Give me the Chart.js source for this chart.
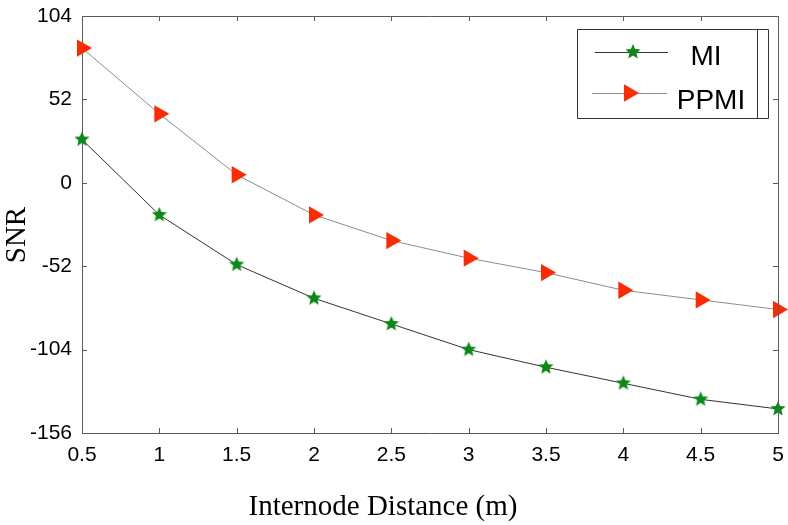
<!DOCTYPE html>
<html lang="en">
<head>
    <meta charset="UTF-8">
    <title>SNR vs Internode Distance</title>
    <style>
        html, body { margin: 0; padding: 0; background: #fff; }
        #wrap { width: 788px; height: 525px; }
    </style>
</head>
<body>
    <div id="wrap">
        <canvas id="myChart" width="788" height="525"></canvas>
    </div>

    <script src="https://cdn.jsdelivr.net/npm/chart.js"></script>
    <script>
        // values
        const distances = [0.5, 1, 1.5, 2, 2.5, 3, 3.5, 4, 4.5, 5];
        const miSnr = [27, -20, -51, -72, -88, -104, -115, -125, -135, -141];
        const ppmiSnr = [84, 43, 5, -20, -36, -47, -56, -67, -73, -79];
        const yTicks = [-156, -104, -52, 0, 52, 104];

        const green = '#0a8a14';
        const red = '#ff2a00';
        const frameColor = '#5a5a5a';

        // filled five point star used as point style
        function makeStar(r) {
            const c = document.createElement('canvas');
            const s = Math.ceil(r * 2 + 2);
            c.width = s; c.height = s;
            const g = c.getContext('2d');
            g.translate(s / 2, s / 2);
            g.beginPath();
            for (let i = 0; i < 10; i++) {
                const rad = i % 2 === 0 ? r : r * 0.45;
                const a = -Math.PI / 2 + i * Math.PI / 5;
                g.lineTo(Math.cos(a) * rad, Math.sin(a) * rad);
            }
            g.closePath();
            g.fillStyle = green;
            g.fill();
            return c;
        }
        const star = makeStar(8);

        function drawTriangle(ctx, x, y, r) {
            ctx.beginPath();
            ctx.moveTo(x + r, y);
            ctx.lineTo(x - r / 2, y - r * Math.sqrt(3) / 2);
            ctx.lineTo(x - r / 2, y + r * Math.sqrt(3) / 2);
            ctx.closePath();
            ctx.fillStyle = red;
            ctx.fill();
        }

        // frame, inward ticks, axis titles and legend
        const decor = {
            id: 'decor',
            afterDraw(chart) {
                const {ctx, chartArea: a, scales} = chart;
                ctx.save();
                ctx.strokeStyle = frameColor;
                ctx.lineWidth = 1;
                ctx.beginPath();
                ctx.moveTo(a.left, a.top + 0.5);
                ctx.lineTo(a.right + 0.5, a.top + 0.5);
                ctx.lineTo(a.right + 0.5, a.bottom);
                const t = 5;
                scales.x.ticks.forEach(tk => {
                    const px = Math.round(scales.x.getPixelForValue(tk.value)) + 0.5;
                    ctx.moveTo(px, a.bottom); ctx.lineTo(px, a.bottom - t);
                    ctx.moveTo(px, a.top); ctx.lineTo(px, a.top + t);
                });
                scales.y.ticks.forEach(tk => {
                    const py = Math.round(scales.y.getPixelForValue(tk.value)) + 0.5;
                    ctx.moveTo(a.left, py); ctx.lineTo(a.left + t, py);
                    ctx.moveTo(a.right, py); ctx.lineTo(a.right - t, py);
                });
                ctx.stroke();

                // axis titles
                ctx.fillStyle = '#000';
                ctx.font = '29px "Liberation Serif", "Times New Roman", serif';
                ctx.textAlign = 'center';
                ctx.textBaseline = 'alphabetic';
                ctx.fillText('Internode Distance (m)', 383, 515);
                ctx.save();
                ctx.translate(25, 235);
                ctx.rotate(-Math.PI / 2);
                ctx.fillText('SNR', 0, 0);
                ctx.restore();

                // legend box
                const lx = 577, ly = 29, lw = 191, lh = 89;
                ctx.strokeStyle = '#333';
                ctx.beginPath();
                ctx.rect(lx + 0.5, ly + 0.5, lw, lh);
                ctx.moveTo(757.5, ly);
                ctx.lineTo(757.5, ly + lh);
                ctx.stroke();

                const sets = chart.data.datasets;
                // MI row
                ctx.strokeStyle = sets[0].borderColor;
                ctx.beginPath();
                ctx.moveTo(595, 52.5); ctx.lineTo(668, 52.5);
                ctx.stroke();
                ctx.drawImage(star, 633 - star.width / 2, 52 - star.height / 2);
                // PPMI row
                ctx.strokeStyle = sets[1].borderColor;
                ctx.beginPath();
                ctx.moveTo(592, 93.5); ctx.lineTo(667, 93.5);
                ctx.stroke();
                drawTriangle(ctx, 629, 93, 10);

                ctx.fillStyle = '#000';
                ctx.font = '28px "Liberation Sans", Arial, sans-serif';
                ctx.textAlign = 'center';
                ctx.textBaseline = 'middle';
                ctx.fillText(sets[0].label, 706, 57);
                ctx.fillText(sets[1].label, 711, 101);
                ctx.restore();
            }
        };

        const ctx = document.getElementById('myChart');

        new Chart(ctx, {
            type: 'line',
            data: {
                datasets: [
                    {
                        label: 'MI',
                        data: distances.map((d, i) => ({x: d, y: miSnr[i]})),
                        borderColor: '#333333',
                        borderWidth: 1,
                        pointStyle: star,
                        pointRadius: 8,
                        fill: false,
                        tension: 0
                    },
                    {
                        label: 'PPMI',
                        data: distances.map((d, i) => ({x: d, y: ppmiSnr[i]})),
                        borderColor: '#8c8c8c',
                        borderWidth: 1,
                        pointStyle: 'triangle',
                        rotation: 90,
                        pointRadius: 10,
                        backgroundColor: red,
                        pointBorderWidth: 0,
                        pointBorderColor: red,
                        fill: false,
                        tension: 0
                    }
                ]
            },
            plugins: [decor],
            options: {
                responsive: false,
                animation: false,
                clip: false,
                layout: {
                    padding: {top: 16, right: 9, left: 0, bottom: 0}
                },
                plugins: {
                    legend: {display: false},
                    tooltip: {enabled: false}
                },
                scales: {
                    x: {
                        type: 'linear',
                        min: distances[0],
                        max: distances[distances.length - 1],
                        grid: {display: false, drawTicks: false},
                        border: {display: true, color: frameColor, width: 1},
                        ticks: {
                            stepSize: 0.5,
                            padding: 10,
                            color: '#000',
                            font: {family: '"Liberation Sans", Arial, sans-serif', size: 21},
                            maxRotation: 0,
                            callback: v => String(v)
                        },
                        afterFit: s => {
                            s.height = 92;
                            s.paddingLeft = 0;
                            s.paddingRight = 0;
                        }
                    },
                    y: {
                        type: 'linear',
                        min: yTicks[0],
                        max: yTicks[yTicks.length - 1],
                        afterBuildTicks: s => { s.ticks = yTicks.map(v => ({value: v})); },
                        grid: {display: false, drawTicks: false},
                        border: {display: true, color: frameColor, width: 1},
                        ticks: {
                            padding: 10,
                            color: '#000',
                            font: {family: '"Liberation Sans", Arial, sans-serif', size: 21}
                        },
                        afterFit: s => {
                            s.width = 82;
                            s.paddingTop = 0;
                            s.paddingBottom = 0;
                        }
                    }
                }
            }
        });
    </script>
</body>
</html>
